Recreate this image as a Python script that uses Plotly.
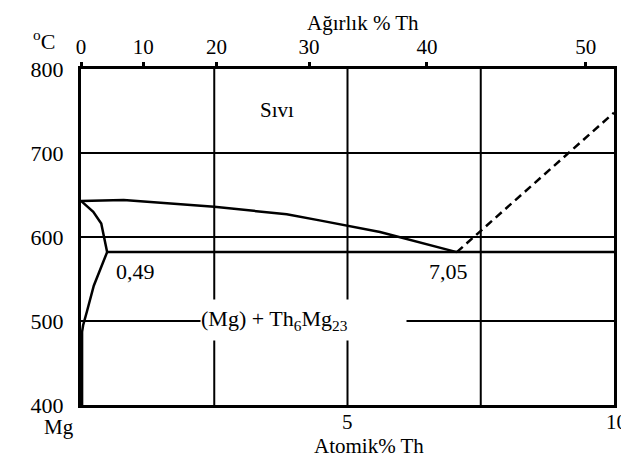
import plotly.graph_objects as go

# ---- data (atomic % Th vs temperature, degC) ----
at_tick_vals = [0, 5, 10]
at_tick_text = ["Mg", "5", "10"]
wt_tick_text = ["0", "10", "20", "30", "40", "50"]
wt_tick_pos_at = [0, 1.17, 2.54, 4.28, 6.49, 9.47]   # weight-% ticks expressed in atomic %
temp_ticks = [400, 500, 600, 700, 800]
grid_at = [2.5, 5, 7.5]

liquidus_at = [0, 0.8, 2.5, 3.86, 4.5, 5.61, 7.05]
liquidus_t = [643, 644, 636, 627, 619.5, 606, 582]

solidus_at = [0, 0.23, 0.38, 0.44, 0.49]
solidus_t = [643, 630, 616, 598, 582]

solvus_at = [0.49, 0.35, 0.24, 0.11, 0.04, 0.02, 0.02]
solvus_t = [582, 560, 542, 511, 495, 487, 400]

eutectic_at = [0.49, 10]
eutectic_t = [582, 582]

dashed_at = [7.05, 10]
dashed_t = [582, 748]

FONT = "Liberation Serif, Times New Roman, serif"
FS = 22

fig = go.Figure()
line = dict(color="black", width=2.5)
fig.add_trace(go.Scatter(x=liquidus_at, y=liquidus_t, mode="lines", line=line))
fig.add_trace(go.Scatter(x=solidus_at, y=solidus_t, mode="lines", line=line))
fig.add_trace(go.Scatter(x=solvus_at, y=solvus_t, mode="lines", line=line))
fig.add_trace(go.Scatter(x=eutectic_at, y=eutectic_t, mode="lines", line=line))
fig.add_trace(go.Scatter(x=dashed_at, y=dashed_t, mode="lines",
                         line=dict(color="black", width=2.5, dash="8px,5px")))
# invisible trace on top axis so it is drawn
fig.add_trace(go.Scatter(x=[0, 10], y=[400, 400], xaxis="x2", mode="lines",
                         line=dict(width=0), hoverinfo="skip", opacity=0))

# grid lines
for g in grid_at:
    fig.add_shape(type="line", xref="x", yref="y", x0=g, x1=g, y0=400, y1=800,
                  line=dict(color="black", width=2), layer="below")
for t in temp_ticks[1:-1]:
    fig.add_shape(type="line", xref="x", yref="y", x0=0, x1=10.08 if t == 600 else 10,
                  y0=t, y1=t, line=dict(color="black", width=2), layer="below")

txt_font = dict(family=FONT, size=FS, color="black")
ann = []
ann.append(dict(x=3.68, y=751, xref="x", yref="y", text="Sıvı", showarrow=False,
                font=dict(family=FONT, size=FS - 1, color="black")))
ann.append(dict(x=1.02, y=559, xref="x", yref="y", text="0,49", showarrow=False,
                font=txt_font))
ann.append(dict(x=6.89, y=559, xref="x", yref="y", text="7,05", showarrow=False,
                font=txt_font))
ann.append(dict(x=2.237, y=501, xref="x", yref="y", xanchor="left", yanchor="middle",
                text="(Mg) + Th<sub>6</sub>Mg<sub>23</sub>", showarrow=False,
                width=205, height=40, align="left", valign="middle",
                bgcolor="white", borderpad=0, font=txt_font))
# bottom tick labels
for v, txt in zip(at_tick_vals, at_tick_text):
    shift = {"Mg": -22, "10": 2}.get(txt, 0)
    ysh = -9 if txt == "Mg" else -4
    ann.append(dict(x=v, y=0, xref="x", yref="paper", yanchor="top", yshift=ysh,
                    xshift=shift, text=txt, showarrow=False, borderpad=0,
                    font=dict(family=FONT, size=21, color="black")))
ann.append(dict(x=5.4, y=0, xref="x", yref="paper", yanchor="top", yshift=-28,
                text="Atomik% Th", showarrow=False, borderpad=0,
                font=dict(family=FONT, size=21, color="black")))
ann.append(dict(x=5.3, y=1, xref="x", yref="paper", yanchor="bottom", yshift=33.5,
                text="Ağırlık % Th", showarrow=False, borderpad=0,
                font=dict(family=FONT, size=21, color="black")))
ann.append(dict(x=0, y=1, xref="paper", yref="paper", xanchor="right", yanchor="bottom",
                xshift=-24, yshift=13, text="<sup>o</sup>C", showarrow=False,
                font=txt_font))

# the page body has an 8px margin, so the figure is drawn 8px in from the window edge
fig.update_layout(
    width=621, height=454,
    margin=dict(l=73, r=15, t=61, b=57),
    paper_bgcolor="white", plot_bgcolor="white",
    showlegend=False,
    font=txt_font,
    annotations=ann,
    xaxis=dict(range=[0, 10], showgrid=False, zeroline=False, showticklabels=False,
               showline=True, mirror=True, linecolor="black", linewidth=3, ticks=""),
    xaxis2=dict(range=[0, 10], overlaying="x", side="top", showgrid=False, zeroline=False,
                tickmode="array", tickvals=wt_tick_pos_at, ticktext=wt_tick_text,
                ticks="outside", ticklen=6, tickwidth=2.5, tickcolor="black",
                showline=False, tickfont=dict(family=FONT, size=21, color="black")),
    yaxis=dict(range=[400, 800], showgrid=False, zeroline=False,
               tickmode="array", tickvals=temp_ticks,
               ticks="", ticklabelstandoff=10,
               showline=True, mirror=True, linecolor="black", linewidth=3,
               tickfont=txt_font),
)

fig.write_html("out.html")
